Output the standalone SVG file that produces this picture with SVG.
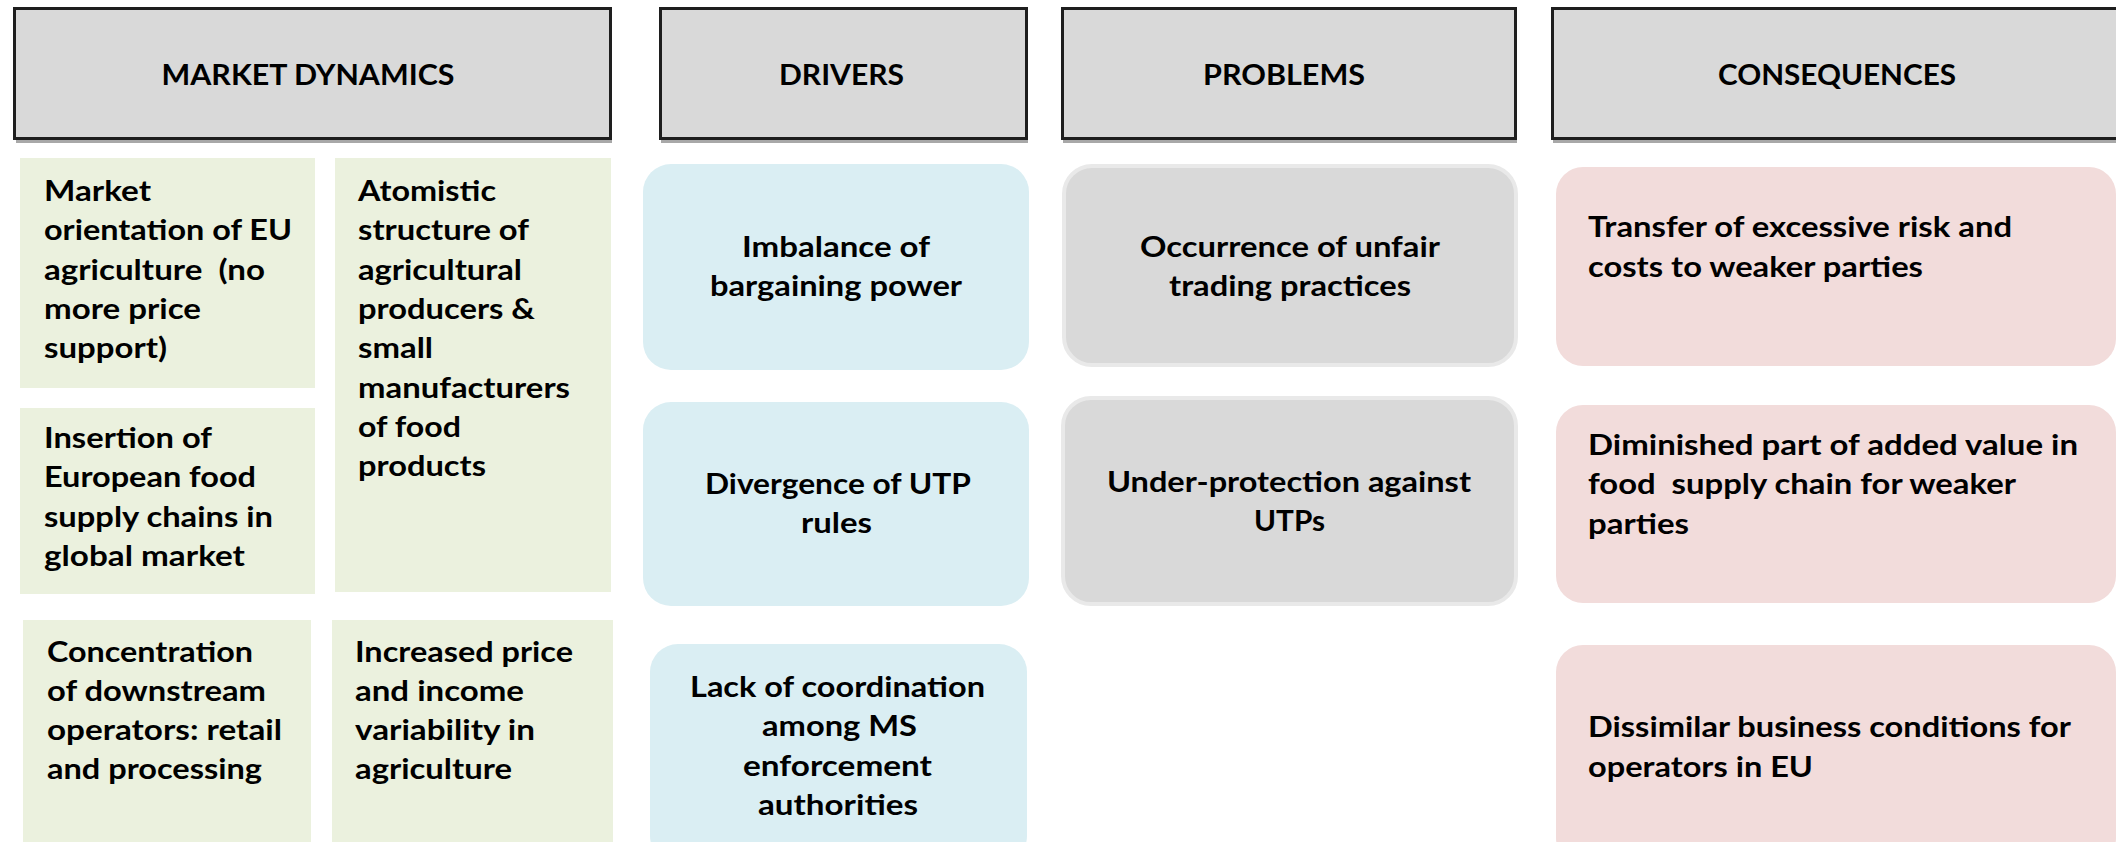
<svg xmlns="http://www.w3.org/2000/svg" width="2116" height="842" viewBox="0 0 2116 842">
  <style>
    text { font-family: Lato, "Liberation Sans", sans-serif; font-weight: bold; font-size: 29px; fill: #000; }
    .hdr { fill: #d9d9d9; stroke: #1e1e1e; stroke-width: 3; }
    .hdrshadow { stroke: #a8a8a8; stroke-width: 3; }
    .green { fill: #ebf1de; }
    .blue { fill: #daeef3; }
    .gray { fill: #d9d9d9; stroke: #e9e9e9; stroke-width: 4; }
    .pink { fill: #f2dcdb; }
  </style>
  <rect width="2116" height="842" fill="#ffffff"/>

  <!-- Headers -->
  <g id="hdr-market">
    <line class="hdrshadow" x1="16" y1="141.5" x2="612" y2="141.5"/>
    <rect class="hdr" x="14.5" y="8.5" width="596" height="130"/>
    <text x="161.5" y="85" textLength="293" lengthAdjust="spacingAndGlyphs">MARKET DYNAMICS</text>
  </g>
  <g id="hdr-drivers">
    <line class="hdrshadow" x1="661" y1="141.5" x2="1028" y2="141.5"/>
    <rect class="hdr" x="660.5" y="8.5" width="366" height="130"/>
    <text x="779" y="85" textLength="125" lengthAdjust="spacingAndGlyphs">DRIVERS</text>
  </g>
  <g id="hdr-problems">
    <line class="hdrshadow" x1="1063" y1="141.5" x2="1517" y2="141.5"/>
    <rect class="hdr" x="1062.5" y="8.5" width="453" height="130"/>
    <text x="1203" y="85" textLength="162" lengthAdjust="spacingAndGlyphs">PROBLEMS</text>
  </g>
  <g id="hdr-consequences">
    <line class="hdrshadow" x1="1553" y1="141.5" x2="2116" y2="141.5"/>
    <rect class="hdr" x="1552.5" y="8.5" width="600" height="130"/>
    <text x="1718" y="85" textLength="238" lengthAdjust="spacingAndGlyphs">CONSEQUENCES</text>
  </g>

  <!-- Market dynamics -->
  <g id="md-market-orientation">
    <rect class="green" x="20" y="158" width="295" height="230"/>
    <text x="44" y="201" textLength="107" lengthAdjust="spacingAndGlyphs">Market</text>
    <text x="44" y="240" textLength="248" lengthAdjust="spacingAndGlyphs">orientation of EU</text>
    <text x="44" y="279.5" textLength="221" lengthAdjust="spacingAndGlyphs" xml:space="preserve">agriculture  (no</text>
    <text x="44" y="319" textLength="157" lengthAdjust="spacingAndGlyphs">more price</text>
    <text x="44" y="358" textLength="123" lengthAdjust="spacingAndGlyphs">support)</text>
  </g>
  <g id="md-atomistic">
    <rect class="green" x="335" y="158" width="276" height="434"/>
    <text x="358" y="201" textLength="138" lengthAdjust="spacingAndGlyphs">Atomistic</text>
    <text x="358" y="240" textLength="171" lengthAdjust="spacingAndGlyphs">structure of</text>
    <text x="358" y="279.5" textLength="164" lengthAdjust="spacingAndGlyphs">agricultural</text>
    <text x="358" y="319" textLength="177" lengthAdjust="spacingAndGlyphs">producers &amp;</text>
    <text x="358" y="358" textLength="75" lengthAdjust="spacingAndGlyphs">small</text>
    <text x="358" y="397.5" textLength="212" lengthAdjust="spacingAndGlyphs">manufacturers</text>
    <text x="358" y="437" textLength="103" lengthAdjust="spacingAndGlyphs">of food</text>
    <text x="358" y="476" textLength="128" lengthAdjust="spacingAndGlyphs">products</text>
  </g>
  <g id="md-insertion">
    <rect class="green" x="20" y="408" width="295" height="186"/>
    <text x="44" y="448" textLength="168" lengthAdjust="spacingAndGlyphs">Insertion of</text>
    <text x="44" y="487" textLength="212" lengthAdjust="spacingAndGlyphs">European food</text>
    <text x="44" y="527" textLength="229" lengthAdjust="spacingAndGlyphs">supply chains in</text>
    <text x="44" y="566" textLength="201" lengthAdjust="spacingAndGlyphs">global market</text>
  </g>
  <g id="md-concentration">
    <rect class="green" x="23" y="620" width="288" height="240"/>
    <text x="47" y="662" textLength="206" lengthAdjust="spacingAndGlyphs">Concentration</text>
    <text x="47" y="701" textLength="219" lengthAdjust="spacingAndGlyphs">of downstream</text>
    <text x="47" y="740" textLength="235" lengthAdjust="spacingAndGlyphs">operators: retail</text>
    <text x="47" y="779" textLength="215" lengthAdjust="spacingAndGlyphs">and processing</text>
  </g>
  <g id="md-variability">
    <rect class="green" x="332" y="620" width="281" height="240"/>
    <text x="355" y="662" textLength="218" lengthAdjust="spacingAndGlyphs">Increased price</text>
    <text x="355" y="701" textLength="169" lengthAdjust="spacingAndGlyphs">and income</text>
    <text x="355" y="740" textLength="180" lengthAdjust="spacingAndGlyphs">variability in</text>
    <text x="355" y="779" textLength="157" lengthAdjust="spacingAndGlyphs">agriculture</text>
  </g>

  <!-- Drivers -->
  <g id="drv-imbalance">
    <rect class="blue" x="643" y="164" width="386" height="206" rx="28" ry="28"/>
    <text x="742" y="257" textLength="188" lengthAdjust="spacingAndGlyphs">Imbalance of</text>
    <text x="710" y="296" textLength="252" lengthAdjust="spacingAndGlyphs">bargaining power</text>
  </g>
  <g id="drv-divergence">
    <rect class="blue" x="643" y="402" width="386" height="204" rx="28" ry="28"/>
    <text x="705" y="494" textLength="266" lengthAdjust="spacingAndGlyphs">Divergence of UTP</text>
    <text x="801" y="533" textLength="71" lengthAdjust="spacingAndGlyphs">rules</text>
  </g>
  <g id="drv-coordination">
    <rect class="blue" x="650" y="644" width="377" height="220" rx="28" ry="28"/>
    <text x="690" y="697" textLength="295" lengthAdjust="spacingAndGlyphs">Lack of coordination</text>
    <text x="762" y="736" textLength="155" lengthAdjust="spacingAndGlyphs">among MS</text>
    <text x="743" y="776" textLength="189" lengthAdjust="spacingAndGlyphs">enforcement</text>
    <text x="758" y="815" textLength="160" lengthAdjust="spacingAndGlyphs">authorities</text>
  </g>

  <!-- Problems -->
  <g id="prb-utp-occurrence">
    <rect class="gray" x="1064" y="166" width="452" height="199" rx="28" ry="28"/>
    <text x="1140" y="257" textLength="300" lengthAdjust="spacingAndGlyphs">Occurrence of unfair</text>
    <text x="1169" y="296" textLength="242" lengthAdjust="spacingAndGlyphs">trading practices</text>
  </g>
  <g id="prb-under-protection">
    <rect class="gray" x="1063" y="398" width="453" height="206" rx="28" ry="28"/>
    <text x="1107" y="492" textLength="364" lengthAdjust="spacingAndGlyphs">Under-protection against</text>
    <text x="1254" y="531" textLength="71" lengthAdjust="spacingAndGlyphs">UTPs</text>
  </g>

  <!-- Consequences -->
  <g id="csq-risk-transfer">
    <rect class="pink" x="1556" y="167" width="560" height="199" rx="27" ry="27"/>
    <text x="1588" y="237" textLength="424" lengthAdjust="spacingAndGlyphs">Transfer of excessive risk and</text>
    <text x="1588" y="277" textLength="335" lengthAdjust="spacingAndGlyphs">costs to weaker parties</text>
  </g>
  <g id="csq-added-value">
    <rect class="pink" x="1556" y="405" width="560" height="198" rx="27" ry="27"/>
    <text x="1588" y="455" textLength="490" lengthAdjust="spacingAndGlyphs">Diminished part of added value in</text>
    <text x="1588" y="494" textLength="428" lengthAdjust="spacingAndGlyphs" xml:space="preserve">food  supply chain for weaker</text>
    <text x="1588" y="534" textLength="101" lengthAdjust="spacingAndGlyphs">parties</text>
  </g>
  <g id="csq-business-conditions">
    <rect class="pink" x="1556" y="645" width="560" height="220" rx="27" ry="27"/>
    <text x="1588" y="737" textLength="483" lengthAdjust="spacingAndGlyphs">Dissimilar business conditions for</text>
    <text x="1588" y="777" textLength="225" lengthAdjust="spacingAndGlyphs">operators in EU</text>
  </g>

  <g id="connectors"></g>
</svg>
